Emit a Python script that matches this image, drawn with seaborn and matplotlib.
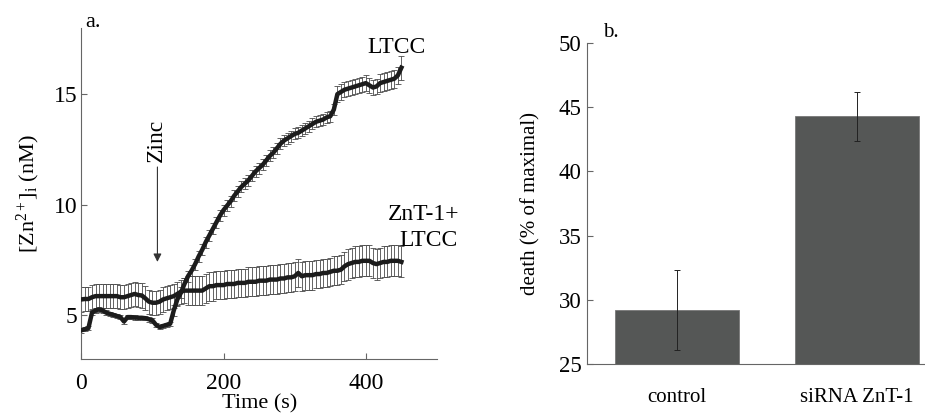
import matplotlib
matplotlib.use("Agg")
import matplotlib.pyplot as plt
import seaborn as sns
import pandas as pd

# time axis (s) for panel a
time_s = list(range(0, 455, 5))

# LTCC trace
ltcc = [4.3, 4.35, 4.4, 5.1, 5.2, 5.25, 5.2, 5.1, 5.05, 5.0,
        4.95, 4.9, 4.7, 4.9, 4.9, 4.88, 4.87, 4.87, 4.85, 4.8,
        4.75, 4.55, 4.45, 4.5, 4.55, 4.6, 5.2, 5.7, 6.0, 6.4,
        6.75, 7.0, 7.3, 7.65, 7.95, 8.3, 8.6, 8.9, 9.2, 9.5,
        9.75, 9.95, 10.15, 10.4, 10.6, 10.8, 10.95, 11.1, 11.3, 11.5,
        11.65, 11.8, 12.0, 12.2, 12.35, 12.55, 12.75, 12.9, 13.0, 13.1,
        13.2, 13.25, 13.35, 13.45, 13.55, 13.65, 13.75, 13.8, 13.85, 13.95,
        14.0, 14.3, 15.0, 15.1, 15.2, 15.25, 15.3, 15.35, 15.4, 15.45,
        15.5, 15.4, 15.3, 15.35, 15.5, 15.55, 15.6, 15.65, 15.7, 15.85,
        16.2]
ltcc_err = [0.1] * 26 + [0.25] * 46 + [0.35] * 12 + [0.4] * 6 + [0.55]

# ZnT-1 + LTCC trace
znt = [5.7, 5.72, 5.72, 5.8, 5.85, 5.85, 5.85, 5.85, 5.85, 5.85,
       5.85, 5.8, 5.8, 5.85, 5.9, 5.95, 5.9, 5.88, 5.75, 5.6,
       5.55, 5.55, 5.6, 5.7, 5.75, 5.8, 5.85, 5.95, 6.05, 6.1,
       6.1, 6.1, 6.1, 6.1, 6.1, 6.2, 6.3, 6.3, 6.35, 6.35,
       6.35, 6.4, 6.4, 6.4, 6.45, 6.45, 6.45, 6.5, 6.5, 6.5,
       6.55, 6.55, 6.55, 6.6, 6.6, 6.6, 6.65, 6.65, 6.7, 6.7,
       6.75, 6.9, 6.75, 6.8, 6.8, 6.8, 6.85, 6.85, 6.9, 6.9,
       6.95, 7.0, 7.0, 7.05, 7.2, 7.3, 7.35, 7.4, 7.4, 7.45,
       7.45, 7.45, 7.35, 7.3, 7.35, 7.4, 7.4, 7.45, 7.45, 7.45,
       7.4]
znt_err = [0.55] * 30 + [0.65] * 45 + [0.7] * 16

# panel b
groups = ["control", "siRNA ZnT-1"]
death = [29.2, 44.3]
death_err = [3.1, 1.9]

plt.rcParams['font.family'] = ['Liberation Serif', 'DejaVu Serif']
plt.rcParams['mathtext.fontset'] = 'custom'
plt.rcParams['mathtext.rm'] = 'Liberation Serif'
plt.rcParams['mathtext.it'] = 'Liberation Serif:italic'

fig = plt.figure(figsize=(9.25, 4.17), dpi=100)
ax1 = fig.add_axes([0.0879, 0.139, 0.3845, 0.794])
ax2 = fig.add_axes([0.6346, 0.127, 0.3654, 0.770])

line_col = '#1c1c1c'
err_col = '#4a4a4a'
spine_col = '#666666'
fs_a = 17

df = pd.DataFrame({'t': time_s, 'ltcc': ltcc, 'znt': znt})

for col, err in [('znt', znt_err), ('ltcc', ltcc_err)]:
    ax1.errorbar(df['t'], df[col], yerr=err, fmt='none', ecolor=err_col,
                 elinewidth=0.6, capsize=2.5, capthick=0.6, zorder=2)
    sns.lineplot(data=df, x='t', y=col, ax=ax1, color=line_col, lw=3.2, zorder=3)

ax1.set_xlim(0, 500)
ax1.set_ylim(3, 18)
ax1.set_xticks([0, 200, 400])
ax1.set_yticks([5, 10, 15])
ax1.set_xlabel('Time (s)', fontsize=16, labelpad=0)
ax1.set_ylabel(r'[Zn$^{2+}$]$_{\mathrm{i}}$ (nM)', fontsize=16, labelpad=8)
ax1.tick_params(direction='in', length=4, width=0.8, color=spine_col, labelsize=fs_a)
ax1.tick_params(axis='x', pad=10)
ax1.tick_params(axis='y', pad=3)
for s in ['top', 'right']:
    ax1.spines[s].set_visible(False)
for s in ['left', 'bottom']:
    ax1.spines[s].set_color(spine_col)
    ax1.spines[s].set_linewidth(0.8)

ax1.text(443, 17.1, 'LTCC', fontsize=fs_a, ha='center', va='center')
ax1.text(481, 9.55, 'ZnT-1+', fontsize=fs_a, ha='center', va='center')
ax1.text(488, 8.35, 'LTCC', fontsize=fs_a, ha='center', va='center')
ax1.text(106, 12.9, 'Zinc', fontsize=fs_a, ha='center', va='center', rotation=90)
ax1.annotate('', xy=(107, 7.4), xytext=(107, 11.7),
             arrowprops=dict(arrowstyle='-|>', color='#333333', lw=0.8,
                             mutation_scale=12, shrinkA=0, shrinkB=0))
fig.text(0.092, 0.945, 'a.', fontsize=16, ha='left', va='center')

# panel b
dfb = pd.DataFrame({'group': groups, 'death': death})
sns.barplot(data=dfb, x='group', y='death', ax=ax2, color='#555756',
            saturation=1, width=0.69, edgecolor='#777777', linewidth=0.6)
ax2.errorbar([0, 1], death, yerr=death_err, fmt='none', ecolor='#222222',
             elinewidth=0.7, capsize=2, capthick=0.7, zorder=5)
ax2.set_xlim(-0.5, 1.38)
ax2.set_ylim(25, 50)
ax2.set_yticks([25, 30, 35, 40, 45, 50])
ax2.set_xlabel('')
ax2.set_ylabel('death (% of maximal)', fontsize=15, labelpad=13)
ax2.tick_params(axis='y', direction='in', length=4, width=0.8, color=spine_col,
                labelsize=16.5, pad=4)
ax2.tick_params(axis='x', length=0, labelsize=15, pad=17)
for s in ['top', 'right']:
    ax2.spines[s].set_visible(False)
for s in ['left', 'bottom']:
    ax2.spines[s].set_color(spine_col)
    ax2.spines[s].set_linewidth(0.8)
fig.text(0.652, 0.922, 'b.', fontsize=15, ha='left', va='center')

fig.savefig('out.png', dpi=100)
